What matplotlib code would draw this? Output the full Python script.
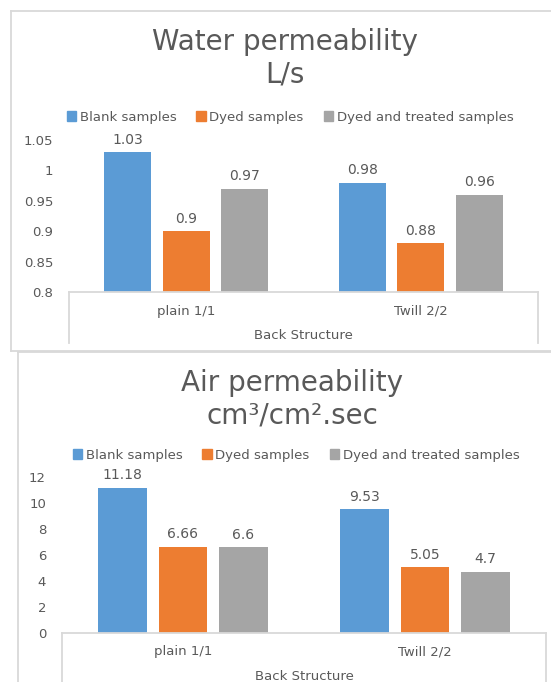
import numpy as np
import matplotlib
matplotlib.use("Agg")
import matplotlib.pyplot as plt
from matplotlib.patches import Patch
from matplotlib.lines import Line2D

# data
categories = ["plain 1/1", "Twill 2/2"]
series_names = ["Blank samples", "Dyed samples", "Dyed and treated samples"]
water_blank = [1.03, 0.98]
water_dyed = [0.90, 0.88]
water_treated = [0.97, 0.96]
air_blank = [11.18, 9.53]
air_dyed = [6.66, 5.05]
air_treated = [6.60, 4.70]
water_ticks = [0.8, 0.85, 0.9, 0.95, 1.0, 1.05]
air_ticks = [0, 2, 4, 6, 8, 10, 12]

colors = ["#5B9BD5", "#ED7D31", "#A5A5A5"]
txt = "#595959"
line_c = "#D9D9D9"

W, H = 551, 682
fig = plt.figure(figsize=(W / 100, H / 100), dpi=100)

def fx(x):
    return x / W

def fy(y):
    return 1 - y / H

def fig_line(x0, y0, x1, y1, lw=1.3):
    fig.add_artist(Line2D([fx(x0), fx(x1)], [fy(y0), fy(y1)],
                          transform=fig.transFigure, color=line_c, lw=lw))

def panel(box, ax_px, title, title_x, title_y, leg_x, leg_y, values, ticks, box_bottom):
    # outer frame of the chart (right side is off the picture)
    x0, y0, x1, y1 = box
    fig_line(x0, y0, x1, y0)
    fig_line(x0, y0, x0, y1)
    fig_line(x0, y1, x1, y1)
    l, t, r, b = ax_px
    ax = fig.add_axes([fx(l), fy(b), fx(r) - fx(l), fy(t) - fy(b)])
    x = np.arange(len(categories))
    for i, vals in enumerate(values):
        bars = ax.bar(x + (i - 1) * 0.25, vals, width=0.2, color=colors[i])
        ax.bar_label(bars, labels=[f"{v:g}" for v in vals], padding=4,
                     fontsize=10, color=txt)
    ax.set_xlim(-0.5, len(categories) - 0.5)
    ax.set_ylim(ticks[0], ticks[-1])
    ax.set_yticks(ticks)
    ax.set_yticklabels([f"{round(v, 2):g}" for v in ticks])
    ax.set_xticks(x)
    ax.set_xticklabels(categories)
    ax.tick_params(axis="both", length=0, colors=txt, labelsize=9.5)
    ax.tick_params(axis="y", pad=11.5)
    ax.tick_params(axis="x", pad=9)
    ax.set_xlabel("Back Structure", color=txt, fontsize=9.5, labelpad=8)
    for s in ["top", "right", "left"]:
        ax.spines[s].set_visible(False)
    ax.spines["bottom"].set_color(line_c)
    ax.spines["bottom"].set_linewidth(1.3)
    # category box sides
    fig_line(l, b, l, box_bottom)
    fig_line(r, b, r, box_bottom)
    fig.text(fx(title_x), fy(title_y), title, ha="center",
             va="center", fontsize=20, color=txt, linespacing=1.22)
    handles = [Patch(color=c) for c in colors]
    fig.legend(handles, series_names, loc="center", ncol=3, frameon=False,
               bbox_to_anchor=(fx(leg_x), fy(leg_y)), fontsize=9.5,
               labelcolor=txt, handlelength=0.7, handleheight=0.7,
               handletextpad=0.3, columnspacing=1.5)
    return ax

panel((10.5, 11, 600, 350.5), (69, 140, 538, 292), "Water permeability\nL/s", 285, 58,
      290, 117, [water_blank, water_dyed, water_treated], water_ticks, 343)
panel((17.5, 352, 600, 720), (62, 477.3, 546, 633), "Air permeability\ncm³/cm².sec", 292, 399,
      296, 455, [air_blank, air_dyed, air_treated], air_ticks, 690)

fig.savefig("out.png", dpi=100)
